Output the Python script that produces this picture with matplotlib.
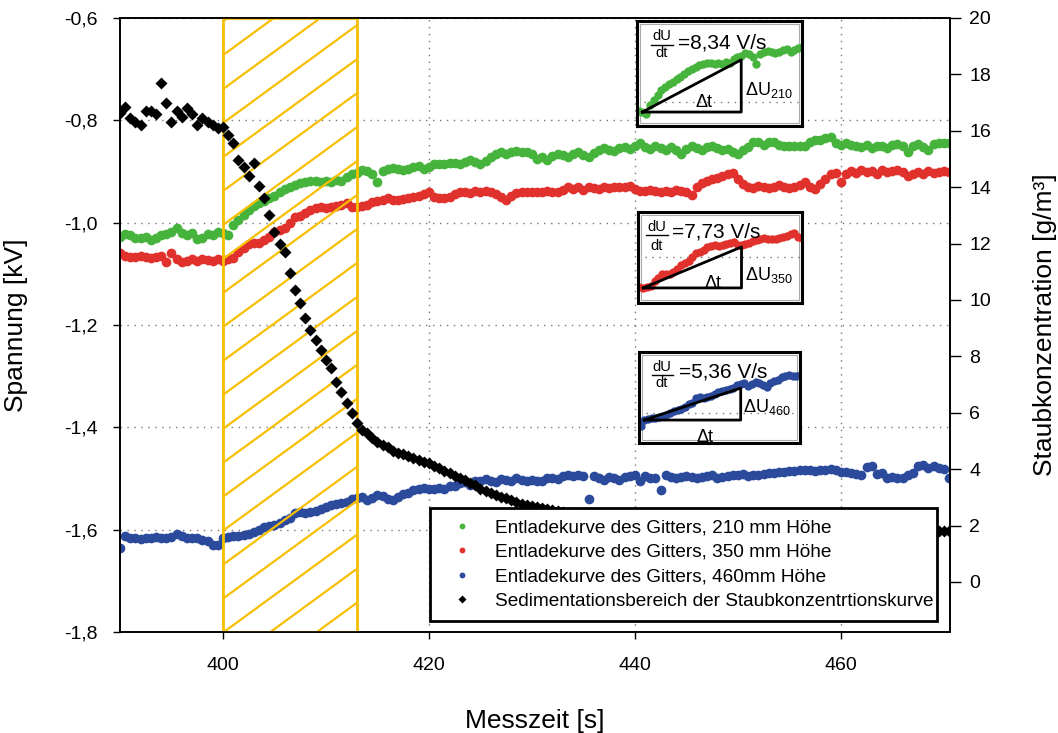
import numpy as np
import matplotlib
matplotlib.use("Agg")
import matplotlib.pyplot as plt
from matplotlib.patches import Rectangle
from matplotlib.lines import Line2D
from matplotlib.ticker import FuncFormatter

plt.rcParams["font.family"] = ["Liberation Sans", "DejaVu Sans"]

# Messzeitpunkte, Abtastung alle 0,5 s
zeit = np.arange(390.0, 470.6, 0.5)

# Entladekurven der Gitter [kV]
gitter_210 = [
    -1.028, -1.022, -1.025, -1.030, -1.030, -1.028, -1.035, -1.030, -1.025, -1.022,
    -1.018, -1.010, -1.020, -1.025, -1.020, -1.032, -1.030, -1.022, -1.025, -1.018,
    -1.020, -1.024, -1.005, -0.995, -0.985, -0.975, -0.968, -0.962, -0.958, -0.952,
    -0.948, -0.940, -0.935, -0.930, -0.926, -0.922, -0.920, -0.918, -0.918, -0.920,
    -0.918, -0.920, -0.916, -0.918, -0.910, -0.905, -0.903, -0.898, -0.900, -0.905,
    -0.920, -0.900, -0.895, -0.893, -0.895, -0.897, -0.895, -0.892, -0.890, -0.895,
    -0.892, -0.886, -0.885, -0.885, -0.884, -0.884, -0.885, -0.882, -0.878, -0.882,
    -0.886, -0.880, -0.872, -0.865, -0.862, -0.866, -0.862, -0.860, -0.862, -0.862,
    -0.866, -0.875, -0.872, -0.878, -0.870, -0.865, -0.868, -0.872, -0.866, -0.862,
    -0.868, -0.872, -0.864, -0.858, -0.855, -0.858, -0.860, -0.855, -0.852, -0.856,
    -0.850, -0.845, -0.852, -0.856, -0.850, -0.854, -0.858, -0.853, -0.858, -0.866,
    -0.856, -0.850, -0.854, -0.858, -0.852, -0.850, -0.855, -0.858, -0.856, -0.862,
    -0.866, -0.858, -0.852, -0.842, -0.842, -0.848, -0.843, -0.842, -0.848, -0.850,
    -0.850, -0.850, -0.850, -0.850, -0.842, -0.838, -0.838, -0.834, -0.832, -0.845,
    -0.848, -0.845, -0.848, -0.850, -0.852, -0.848, -0.855, -0.850, -0.850, -0.855,
    -0.848, -0.846, -0.850, -0.862, -0.850, -0.846, -0.852, -0.858, -0.846, -0.845,
    -0.845, -0.845,
]

gitter_350 = [
    -1.059, -1.065, -1.068, -1.068, -1.066, -1.068, -1.070, -1.068, -1.066, -1.078,
    -1.060, -1.072, -1.078, -1.075, -1.072, -1.076, -1.072, -1.074, -1.076, -1.072,
    -1.075, -1.072, -1.070, -1.057, -1.050, -1.042, -1.040, -1.040, -1.035, -1.028,
    -1.018, -1.014, -1.010, -1.000, -0.990, -0.988, -0.982, -0.975, -0.972, -0.970,
    -0.971, -0.970, -0.968, -0.966, -0.962, -0.970, -0.970, -0.968, -0.965, -0.960,
    -0.958, -0.955, -0.952, -0.955, -0.956, -0.954, -0.952, -0.950, -0.948, -0.944,
    -0.940, -0.950, -0.952, -0.952, -0.950, -0.945, -0.940, -0.940, -0.942, -0.938,
    -0.940, -0.938, -0.940, -0.945, -0.950, -0.955, -0.948, -0.942, -0.940, -0.940,
    -0.940, -0.940, -0.940, -0.938, -0.940, -0.940, -0.936, -0.930, -0.934, -0.930,
    -0.936, -0.930, -0.932, -0.935, -0.930, -0.932, -0.930, -0.930, -0.930, -0.928,
    -0.935, -0.938, -0.938, -0.936, -0.938, -0.940, -0.938, -0.940, -0.936, -0.938,
    -0.940, -0.946, -0.930, -0.922, -0.918, -0.915, -0.912, -0.908, -0.905, -0.903,
    -0.915, -0.925, -0.930, -0.932, -0.928, -0.930, -0.932, -0.930, -0.926, -0.930,
    -0.932, -0.930, -0.926, -0.920, -0.930, -0.935, -0.925, -0.915, -0.905, -0.903,
    -0.920, -0.905, -0.900, -0.903, -0.898, -0.902, -0.900, -0.905, -0.898, -0.902,
    -0.900, -0.898, -0.902, -0.908, -0.905, -0.902, -0.905, -0.900, -0.903, -0.902,
    -0.900, -0.902,
]

gitter_460 = [
    -1.636, -1.612, -1.616, -1.616, -1.618, -1.616, -1.616, -1.615, -1.616, -1.616,
    -1.614, -1.608, -1.612, -1.616, -1.616, -1.616, -1.620, -1.622, -1.630, -1.630,
    -1.616, -1.614, -1.612, -1.612, -1.610, -1.608, -1.604, -1.600, -1.596, -1.594,
    -1.592, -1.588, -1.582, -1.578, -1.568, -1.566, -1.568, -1.566, -1.563, -1.560,
    -1.556, -1.552, -1.550, -1.548, -1.546, -1.540, -1.538, -1.536, -1.542, -1.538,
    -1.533, -1.535, -1.540, -1.543, -1.536, -1.530, -1.528, -1.522, -1.520, -1.518,
    -1.520, -1.520, -1.518, -1.520, -1.515, -1.514, -1.510, -1.508, -1.512, -1.506,
    -1.505, -1.502, -1.506, -1.508, -1.502, -1.504, -1.506, -1.500, -1.504, -1.505,
    -1.504, -1.506, -1.505, -1.500, -1.500, -1.502, -1.495, -1.494, -1.496, -1.494,
    -1.496, -1.540, -1.496, -1.500, -1.503, -1.498, -1.500, -1.504, -1.498, -1.496,
    -1.494, -1.505, -1.496, -1.500, -1.500, -1.522, -1.494, -1.498, -1.500, -1.498,
    -1.496, -1.498, -1.500, -1.498, -1.496, -1.494, -1.500, -1.498, -1.496, -1.494,
    -1.494, -1.492, -1.496, -1.494, -1.494, -1.492, -1.490, -1.490, -1.488, -1.488,
    -1.486, -1.486, -1.484, -1.484, -1.484, -1.486, -1.484, -1.484, -1.482, -1.484,
    -1.488, -1.488, -1.490, -1.492, -1.494, -1.478, -1.476, -1.492, -1.490, -1.500,
    -1.498, -1.500, -1.500, -1.494, -1.490, -1.476, -1.474, -1.480, -1.476, -1.480,
    -1.482, -1.500,
]

# Staubkonzentration [g/m³]
staub = [
    16.63, 16.85, 16.45, 16.30, 16.20, 16.70, 16.70, 16.60, 17.70, 17.00,
    16.30, 16.70, 16.50, 16.80, 16.60, 16.20, 16.45, 16.30, 16.20, 16.10,
    16.15, 15.85, 15.55, 14.95, 14.70, 14.40, 14.85, 14.05, 13.60, 13.00,
    12.40, 12.00, 11.70, 10.95, 10.35, 9.90, 9.36, 8.94, 8.58, 8.23,
    7.87, 7.59, 7.09, 6.74, 6.35, 5.99, 5.64, 5.40, 5.28, 5.10,
    4.96, 4.85, 4.78, 4.66, 4.57, 4.52, 4.46, 4.40, 4.33, 4.27,
    4.22, 4.12, 4.03, 3.95, 3.86, 3.76, 3.68, 3.60, 3.52, 3.42,
    3.30, 3.24, 3.16, 3.08, 3.02, 2.96, 2.90, 2.84, 2.78, 2.74,
    2.70, 2.66, 2.62, 2.58, 2.55, 2.52, 2.49, 2.46, 2.44, 2.42,
    2.40, 2.38, 2.36, 2.34, 2.32, 2.30, 2.28, 2.27, 2.25, 2.24,
    2.22, 2.21, 2.20, 2.18, 2.17, 2.16, 2.15, 2.14, 2.13, 2.12,
    2.11, 2.10, 2.09, 2.08, 2.07, 2.06, 2.05, 2.04, 2.03, 2.02,
    2.01, 2.00, 2.00, 1.99, 1.98, 1.97, 1.97, 1.96, 1.95, 1.95,
    1.94, 1.93, 1.93, 1.92, 1.92, 1.91, 1.90, 1.90, 1.89, 1.89,
    1.88, 1.88, 1.87, 1.87, 1.86, 1.86, 1.85, 1.85, 1.85, 1.84,
    1.84, 1.83, 1.83, 1.82, 1.82, 1.82, 1.81, 1.81, 1.80, 1.80,
    1.80, 1.79,
]

# Sedimentationsbereich und Anstiege der Entladekurven
sed_start, sed_ende = 400, 413
steigungen = [8.34, 7.73, 5.36]  # V/s
hoehen = ["210", "350", "460"]

labels = [
    "Entladekurve des Gitters, 210 mm Höhe",
    "Entladekurve des Gitters, 350 mm Höhe",
    "Entladekurve des Gitters, 460mm Höhe",
    "Sedimentationsbereich der Staubkonzentrtionskurve",
]

GRUEN = "#46b43c"
ROT = "#e0312c"
BLAU = "#2b4a9c"
GELB = "#f7bf00"
farben = [GRUEN, ROT, BLAU]
kurven = [gitter_210, gitter_350, gitter_460]

komma = FuncFormatter(lambda v, p: f"{v:.1f}".replace(".", ","))

fig = plt.figure(figsize=(10.58, 7.33), dpi=100)
ax = fig.add_axes([0.1134, 0.138, 0.7845, 0.8375])
ax2 = ax.twinx()

handles = []
for werte, farbe, lab in zip(kurven, farben, labels):
    h, = ax.plot(zeit, werte, "o", color=farbe, ms=7, mec="none", label=lab, zorder=2)
    handles.append(h)
h, = ax2.plot(zeit, staub, "D", color="black", ms=6.6, mec="none", label=labels[3], zorder=3)
handles.append(h)

# schraffierter Sedimentationsbereich
rahmen = Rectangle((sed_start, -1.8), sed_ende - sed_start, 1.2, fill=False,
                   ec=GELB, lw=2, zorder=4)
ax.add_patch(rahmen)
for b in np.arange(-2.2, -0.55, 0.0664):
    t = np.array([sed_start, sed_ende])
    ln, = ax.plot(t, b + 0.0147 * (t - sed_start), color=GELB, lw=1.6, zorder=4)
    ln.set_clip_path(rahmen)

ax.set_xticks([400, 420, 440, 460])
ax.set_yticks(np.arange(-1.8, -0.59, 0.2))
ax.set_xlim(390, 470.6)
ax.set_ylim(-1.8, -0.6)
ax.yaxis.set_major_formatter(komma)
ax.grid(True, linestyle=(0, (1, 4)), color="#777777", lw=1)
ax.tick_params(axis="both", labelsize=14, direction="out", length=5, width=1)
ax.tick_params(axis="x", pad=13)
ax.tick_params(axis="y", pad=11)
ax.set_xlabel("Messzeit [s]", fontsize=19, labelpad=25)
ax.set_ylabel("Spannung [kV]", fontsize=19, labelpad=26)

ax2.set_yticks(range(0, 21, 2))
ax2.set_ylim(-1.77, 20)
ax2.tick_params(axis="y", labelsize=14, direction="out", length=8, width=1, pad=6)
ax2.set_ylabel("Staubkonzentration [g/m³]", fontsize=19, labelpad=30)

for a in (ax, ax2):
    for s in a.spines.values():
        s.set_linewidth(1.2)

leg = ax2.legend(handles=handles, loc="upper left",
                 bbox_to_anchor=(0.3735, 0.0163, 0.6105, 0.186), mode="expand",
                 fontsize=13.7, fancybox=False, edgecolor="black", framealpha=1,
                 borderaxespad=0, borderpad=0.6, handlelength=2.2,
                 handletextpad=0.6, labelspacing=0.38, markerscale=0.6)
leg.get_frame().set_linewidth(2)

# Detailfenster mit Anstiegsdreieck
boxen = [
    [0.6021, 0.8281, 0.1560, 0.1432],
    [0.6030, 0.5866, 0.1550, 0.1241],
    [0.6040, 0.3956, 0.1522, 0.1241],
]
ygrenzen = [(-1.049, -0.831), (-1.112, -0.889), (-1.666, -1.468)]
# Textpositionen (Achsenbruchteile): dU-Mitte x, dU y, Bruchstrich y, dt y,
# Wert x, Wert y, ΔU x, ΔU y, Δt x, Δt y
textpos = [
    (0.15, 0.857, 0.771, 0.700, 0.25, 0.79, 0.655, 0.343, 0.406, 0.22),
    (0.116, 0.835, 0.747, 0.630, 0.207, 0.78, 0.652, 0.308, 0.457, 0.22),
    (0.143, 0.835, 0.747, 0.659, 0.248, 0.78, 0.646, 0.396, 0.41, 0.066),
]

for box, werte, farbe, yl, s, hoehe, tp in zip(boxen, kurven, farben, ygrenzen,
                                               steigungen, hoehen, textpos):
    ins = fig.add_axes(box)
    ins.set_facecolor("white")
    ins.plot(zeit, werte, "o", color=farbe, ms=6, mec="none")
    ins.set_xticks([])
    ins.set_yticks(np.arange(-1.8, -0.59, 0.2))
    ins.set_xlim(399.3, 421.0)
    ins.set_ylim(*yl)
    ins.yaxis.grid(True, linestyle=(0, (1, 4)), color="#777777", lw=1)
    ins.tick_params(left=False, labelleft=False)
    for sp in ins.spines.values():
        sp.set_linewidth(2.2)
        sp.set_color("black")
    ins.add_patch(Rectangle((0.02, 0.03), 0.96, 0.94, transform=ins.transAxes,
                            fill=False, ec="#aaaaaa", lw=0.8))

    # Dreieck aus Anstieg und Zeitfenster
    v0 = werte[20]
    dt = sed_ende - sed_start
    du = s * dt / 1000
    ins.plot([sed_start, sed_ende, sed_ende, sed_start],
             [v0, v0 + du, v0, v0], color="black", lw=2)

    x_du, y_du, y_bar, y_dt, x_w, y_w, x_U, y_U, x_t, y_t = tp
    ins.text(x_du, y_du, "dU", transform=ins.transAxes, ha="center", va="center", fontsize=10.5)
    ins.add_line(Line2D([x_du - 0.065, x_du + 0.065], [y_bar, y_bar],
                        transform=ins.transAxes, color="black", lw=1))
    ins.text(x_du, y_dt, "dt", transform=ins.transAxes, ha="center", va="center", fontsize=10.5)
    ins.text(x_w, y_w, f"={s:.2f} V/s".replace(".", ","), transform=ins.transAxes,
             ha="left", va="center", fontsize=15)
    ins.text(x_U, y_U, rf"$\mathregular{{ΔU_{{{hoehe}}}}}$", transform=ins.transAxes,
             ha="left", va="center", fontsize=13)
    ins.text(x_t, y_t, "Δt", transform=ins.transAxes, ha="center", va="center", fontsize=13)

fig.savefig("out.png", dpi=100)
